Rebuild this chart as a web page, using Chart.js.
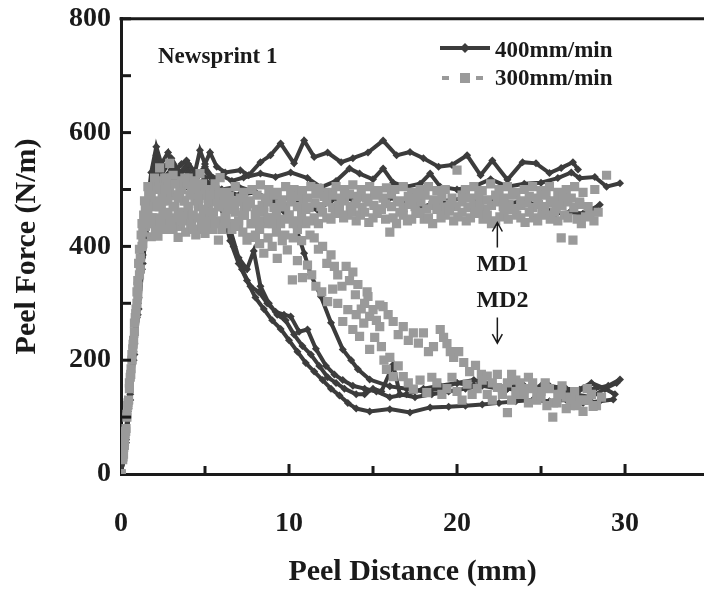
<!DOCTYPE html>
<html>
<head>
<meta charset="utf-8">
<script src="https://cdn.jsdelivr.net/npm/chart.js@4.4.1/dist/chart.umd.min.js"></script>
<style>
  html, body { margin: 0; padding: 0; background: #fff; overflow: hidden; }
  #grafico { width: 704px; height: 590px; display: block; }
</style>
</head>
<body>
<canvas id="grafico" width="704" height="590"></canvas>
<script>
// Peel force vs peel distance, Newsprint 1 — [distance mm, force N/m]
const xTicks = [0, 10, 20, 30];
const yTicks = [0, 200, 400, 600, 800];

// 400 mm/min, MD1 (plateau)
const rapidoMd1a = [[0,0],[0.2,45],[0.4,110],[0.6,180],[0.8,250],[1.0,320],[1.2,390],[1.4,440],[1.6,480],[1.8,530],[2.1,575],[2.4,545],[2.8,565],[3.2,530],[3.6,545],[3.9,551],[4.4,530],[4.7,569],[5.0,545],[5.3,565],[5.7,540],[6.2,530],[7.1,534],[7.6,525],[8.3,548],[8.9,560],[9.5,581],[10.3,546],[10.9,586],[11.5,557],[12.3,565],[13.1,548],[13.8,555],[14.7,565],[15.6,586],[16.4,560],[17.2,566],[18.0,555],[18.9,540],[19.7,543],[20.6,560],[21.4,525],[22.1,551],[23.0,517],[23.9,548],[24.7,546],[25.5,529],[26.2,538],[26.9,548],[27.2,535]];
const rapidoMd1b = [[0,0],[0.25,50],[0.5,130],[0.75,215],[1.0,300],[1.25,380],[1.5,450],[1.8,510],[2.1,560],[2.5,535],[3.0,555],[3.5,530],[4.0,545],[4.5,525],[5.0,540],[5.5,520],[6.0,525],[6.6,515],[7.3,521],[8.3,528],[9.2,522],[10.1,530],[11.1,520],[11.9,504],[12.8,515],[13.6,537],[14.2,528],[15.0,518],[15.6,537],[16.2,512],[17.0,505],[17.8,510],[18.4,528],[19.0,505],[20.0,500],[21.0,505],[22.0,518],[23.0,505],[24.0,510],[25.0,512],[26.0,520],[26.8,530],[27.3,520],[28.2,522],[28.9,505],[29.7,511]];
const rapidoMd1c = [[0,0],[0.3,60],[0.55,140],[0.8,230],[1.05,310],[1.3,385],[1.55,445],[1.8,500],[2.1,540],[2.6,520],[3.0,525],[3.5,510],[4.0,530],[4.5,505],[5.0,510],[5.5,495],[6.0,500],[7.0,490],[8.0,495],[9.0,480],[10.0,485],[11.0,470],[11.7,464],[12.4,478],[13.1,487],[14.0,480],[15.0,490],[16.0,485],[17.0,478],[18.0,470],[19.0,480],[19.6,481],[20.5,485],[21.3,478],[22.0,482],[23.0,475],[24.0,480],[25.0,470],[25.9,458],[26.7,460],[27.5,458],[28.0,465],[28.5,473]];

// 400 mm/min, MD2 (drop)
const rapidoMd2a = [[0,0],[0.2,40],[0.4,100],[0.6,170],[0.8,240],[1.0,310],[1.2,380],[1.4,430],[1.7,490],[2.0,540],[2.4,525],[2.9,550],[3.4,520],[3.9,540],[4.4,515],[5.0,535],[5.5,510],[6.0,470],[6.5,410],[7.0,370],[7.5,340],[8.0,310],[8.5,290],[9.0,270],[9.5,255],[10.0,235],[10.5,215],[11.0,195],[11.5,180],[12.0,165],[12.5,150],[13.0,138],[13.5,125],[14.0,115],[14.8,110],[16.0,114],[17.2,108],[18.4,117],[19.5,118],[20.5,120],[21.5,122],[22.5,125],[23.5,128],[24.5,130],[25.5,128],[26.5,130],[27.5,125],[28.5,128],[29.3,131]];
const rapidoMd2b = [[0,0],[0.25,50],[0.5,125],[0.75,200],[1.0,280],[1.25,360],[1.5,430],[1.8,500],[2.1,545],[2.5,520],[3.0,535],[3.5,510],[4.0,530],[4.5,505],[5.0,520],[5.5,495],[6.0,480],[6.5,430],[7.0,380],[7.5,360],[7.9,392],[8.3,330],[8.8,300],[9.3,280],[9.8,270],[10.3,245],[10.8,225],[11.3,210],[11.8,190],[12.3,170],[12.8,160],[13.3,150],[14.0,140],[14.5,140],[15.0,150],[15.5,145],[16.2,192],[16.6,140],[17.5,135],[18.5,140],[19.5,145],[20.5,150],[21.5,155],[22.5,150],[23.5,155],[24.5,150],[25.5,155],[26.5,150],[27.3,148],[28.2,150],[29.0,155],[29.7,166]];
const rapidoMd2c = [[0,0],[0.3,55],[0.55,130],[0.8,210],[1.05,290],[1.3,370],[1.55,440],[1.8,495],[2.2,530],[2.7,510],[3.2,525],[3.7,500],[4.2,520],[4.7,495],[5.2,505],[5.7,480],[6.2,450],[6.7,400],[7.2,360],[7.7,330],[8.2,320],[8.7,300],[9.2,285],[9.7,280],[10.1,277],[10.6,250],[11.1,254],[11.6,220],[12.2,190],[12.7,175],[13.2,165],[13.8,155],[14.5,150],[15.2,145],[16.0,135],[17.0,140],[18.0,150],[19.0,155],[20.0,160],[21.0,155],[22.0,160],[23.0,150],[24.0,155],[25.0,150],[26.0,145],[27.0,140],[28.0,135],[28.8,150],[29.5,160]];
const rapidoMd2d = [[0,0],[0.2,45],[0.45,115],[0.7,195],[0.95,275],[1.2,355],[1.45,425],[1.7,485],[2.0,525],[2.5,510],[3.0,530],[3.5,505],[4.0,520],[4.5,500],[5.0,515],[6.0,500],[7.0,505],[8.0,495],[9.0,480],[10.0,450],[10.5,425],[10.9,388],[11.3,350],[11.9,312],[12.5,266],[13.2,219],[13.7,200],[14.1,184],[14.8,166],[16.0,154],[17.0,150],[18.0,145],[19.0,150],[20.0,160],[21.0,165],[22.0,158],[23.0,150],[24.0,145],[25.0,155],[26.0,150],[27.0,145],[28.0,160],[28.8,150],[29.4,140]];

// 300 mm/min, MD1
const lentoMd1a = [[0,0],[0.15,35],[0.3,80],[0.45,130],[0.6,185],[0.75,235],[0.9,290],[1.0,340],[1.1,395],[1.25,440],[1.4,480],[1.6,505],[1.8,490],[2.0,520],[2.2,470],[2.3,538],[2.5,480],[2.6,500],[2.8,460],[2.9,546],[3.1,470],[3.2,510],[3.4,485],[3.5,495],[3.7,460],[3.8,520],[4.0,470],[4.1,490],[4.3,455],[4.4,515],[4.6,475],[4.7,528],[4.9,465],[5.0,500],[5.2,480],[5.3,490],[5.5,460],[5.6,510],[5.8,470],[5.9,521],[6.1,475],[6.3,495],[6.6,480],[6.8,505],[7.1,485],[7.3,495],[7.6,480],[7.8,500],[8.1,490],[8.3,508],[8.6,485],[8.8,500],[9.1,490],[9.3,495],[9.6,482],[9.8,505],[10.1,490],[10.3,500],[10.6,488],[10.8,498],[11.1,485],[11.3,505],[11.6,492],[11.8,502],[12.1,488],[12.3,495],[12.6,490],[12.8,505],[13.1,485],[13.3,500],[13.6,492],[13.8,508],[14.1,488],[14.3,500],[14.6,485],[14.8,505],[15.1,490],[15.3,498],[15.6,485],[15.8,503],[16.1,492],[16.3,500],[16.6,480],[16.8,505],[17.1,488],[17.3,495],[17.6,485],[17.8,500],[18.1,490],[18.3,505],[18.6,482],[18.8,498],[19.1,488],[19.3,500],[19.7,485],[20.0,534],[20.3,490],[20.5,500],[20.8,485],[21.0,505],[21.3,490],[21.5,498],[21.8,482],[22.0,510],[22.3,490],[22.5,500],[22.8,485],[23.0,505],[23.3,490],[23.5,495],[23.8,480],[24.0,500],[24.3,488],[24.5,505],[24.8,485],[25.0,498],[25.3,490],[25.5,505],[25.8,480],[26.0,495],[26.3,488],[26.5,500],[26.8,485],[27.0,505],[27.3,478],[27.5,495],[27.8,470],[28.2,500],[28.9,525]];
const lentoMd1b = [[0,0],[0.2,50],[0.35,100],[0.5,160],[0.65,210],[0.8,265],[0.95,320],[1.05,370],[1.2,420],[1.35,455],[1.6,470],[1.75,440],[1.9,440],[2.05,425],[2.2,418],[2.35,445],[2.5,455],[2.65,430],[2.8,480],[2.95,445],[3.1,430],[3.25,450],[3.4,416],[3.55,435],[3.7,445],[3.85,425],[4.0,470],[4.15,440],[4.3,430],[4.45,420],[4.6,450],[4.8,435],[5.0,423],[5.15,445],[5.3,460],[5.45,430],[5.6,440],[5.8,411],[6.0,430],[6.2,450],[6.4,440],[6.6,465],[6.8,435],[7.0,445],[7.25,455],[7.5,470],[7.75,440],[8.0,455],[8.25,445],[8.5,460],[8.75,450],[9.0,440],[9.25,455],[9.5,470],[9.75,448],[10.0,455],[10.25,440],[10.5,445],[10.75,455],[11.0,465],[11.25,445],[11.5,450],[11.75,440],[12.0,460],[12.25,450],[12.5,448],[12.75,458],[13.0,465],[13.25,450],[13.5,455],[13.75,460],[14.0,445],[14.25,455],[14.5,460],[14.75,442],[15.0,450],[15.25,458],[15.5,465],[15.75,448],[16.0,425],[16.2,450],[16.4,440],[16.6,460],[16.8,455],[17.05,445],[17.3,448],[17.55,458],[17.8,460],[18.05,448],[18.3,450],[18.55,440],[18.8,465],[19.05,450],[19.3,455],[19.55,462],[19.8,445],[20.05,452],[20.3,460],[20.55,445],[20.8,450],[21.05,458],[21.3,462],[21.55,448],[21.8,455],[22.05,440],[22.3,445],[22.55,452],[22.8,458],[23.05,448],[23.3,465],[23.55,455],[23.8,450],[24.05,442],[24.3,460],[24.55,450],[24.8,445],[25.05,458],[25.3,455],[25.55,448],[25.8,460],[26.0,445],[26.2,415],[26.4,455],[26.6,450],[26.9,411],[27.15,448],[27.4,440],[27.65,452],[27.9,455],[28.15,445],[28.4,460]];
const lentoMd1c = [[0,0],[0.12,30],[0.28,75],[0.42,125],[0.58,175],[0.72,228],[0.88,282],[1.02,330],[1.15,380],[1.3,425],[1.45,470],[1.65,492],[1.85,505],[2.05,480],[2.25,515],[2.45,495],[2.7,520],[2.9,500],[3.1,525],[3.3,490],[3.55,505],[3.75,480],[3.95,510],[4.2,495],[4.45,505],[4.65,485],[4.85,510],[5.1,490],[5.35,500],[5.6,478],[5.85,495],[6.15,470],[6.45,488],[6.75,472],[7.05,478],[7.35,468],[7.7,475],[8.05,465],[8.4,472],[8.75,478],[9.1,468],[9.45,475],[9.8,470],[10.15,478],[10.5,470],[10.85,474],[11.2,468],[11.55,476],[11.9,470],[12.25,478],[12.6,468],[12.95,472],[13.3,480],[13.65,470],[14.0,475],[14.35,468],[14.7,478],[15.05,472],[15.4,466],[15.75,475],[16.1,470],[16.45,478],[16.8,468],[17.15,474],[17.5,470],[17.85,478],[18.2,466],[18.55,472],[18.9,476],[19.25,468],[19.6,474],[19.95,470],[20.3,478],[20.65,468],[21.0,472],[21.35,476],[21.7,466],[22.05,472],[22.4,478],[22.75,470],[23.1,474],[23.45,466],[23.8,472],[24.15,476],[24.5,468],[24.85,474],[25.2,470],[25.55,476],[25.9,466],[26.25,472],[26.6,478],[26.95,468],[27.3,474]];

// 300 mm/min, MD2
const lentoMd2a = [[0,0],[0.1,25],[0.25,70],[0.4,120],[0.55,170],[0.7,220],[0.85,275],[1.0,315],[1.15,360],[1.3,405],[1.45,435],[1.6,460],[1.8,417],[1.95,470],[2.1,450],[2.25,500],[2.4,475],[2.55,440],[2.7,430],[2.85,505],[3.0,490],[3.2,440],[3.4,460],[3.6,515],[3.8,480],[4.0,450],[4.2,440],[4.4,500],[4.6,470],[4.8,445],[5.0,490],[5.2,430],[5.4,455],[5.6,500],[5.8,470],[6.0,440],[6.2,450],[6.4,480],[6.6,430],[6.8,460],[7.0,440],[7.25,425],[7.5,411],[7.75,440],[8.0,420],[8.25,405],[8.5,388],[8.75,415],[9.0,400],[9.3,379],[9.6,410],[9.9,394],[10.2,341],[10.5,375],[10.8,345],[11.1,367],[11.35,350],[11.6,330],[11.95,320],[12.3,303],[12.6,325],[12.9,300],[13.2,268],[13.5,289],[13.8,254],[14.0,280],[14.2,242],[14.45,265],[14.7,312],[14.8,219],[15.1,240],[15.4,297],[15.5,224],[15.65,200],[15.8,184],[16.0,205],[16.2,171],[16.5,190],[16.8,171],[17.1,160],[17.4,149],[17.8,165],[18.2,143],[18.5,170],[18.8,160],[19.1,140],[19.4,150],[19.7,170],[20.0,145],[20.3,130],[20.6,158],[20.9,140],[21.2,150],[21.5,165],[21.8,140],[22.1,130],[22.4,152],[22.7,140],[23.0,108],[23.25,130],[23.5,145],[23.75,160],[24.0,140],[24.25,125],[24.5,150],[24.75,135],[25.0,135],[25.35,120],[25.7,100],[25.95,125],[26.2,140],[26.5,115],[26.8,130],[27.15,120],[27.5,110],[27.8,130],[28.1,119]];
const lentoMd2b = [[0,0],[0.2,55],[0.35,105],[0.5,150],[0.65,200],[0.8,250],[0.95,300],[1.1,350],[1.25,400],[1.4,445],[1.55,470],[1.7,480],[1.85,450],[2.0,500],[2.15,430],[2.3,470],[2.45,510],[2.6,520],[2.75,455],[2.9,490],[3.05,430],[3.2,470],[3.4,440],[3.6,500],[3.8,460],[4.0,520],[4.2,445],[4.4,480],[4.6,430],[4.8,500],[5.0,455],[5.2,470],[5.4,430],[5.6,490],[5.8,445],[6.0,480],[6.25,455],[6.5,470],[6.75,440],[7.0,480],[7.35,455],[7.7,416],[8.0,455],[8.25,430],[8.5,470],[8.75,440],[9.0,450],[9.25,425],[9.5,440],[9.75,420],[10.0,455],[10.25,415],[10.5,430],[10.75,410],[11.0,440],[11.25,420],[11.5,415],[11.75,395],[12.0,400],[12.25,370],[12.5,385],[12.7,365],[12.9,350],[13.15,330],[13.4,365],[13.6,340],[13.8,355],[13.95,315],[14.1,333],[14.3,290],[14.5,300],[14.65,320],[14.8,277],[15.0,289],[15.2,270],[15.4,259],[15.6,294],[15.9,280],[16.2,268],[16.5,245],[16.8,259],[17.1,235],[17.4,248],[17.7,230],[18.0,248],[18.3,215],[18.6,224],[19.0,254],[19.2,240],[19.4,229],[19.6,215],[19.8,205],[20.1,215],[20.4,196],[20.75,180],[21.1,191],[21.45,175],[21.8,172],[22.1,160],[22.4,175],[22.7,150],[23.0,160],[23.25,175],[23.5,165],[23.75,140],[24.0,150],[24.25,170],[24.5,160],[24.75,130],[25.0,145],[25.25,160],[25.5,150],[25.75,125],[26.0,140],[26.25,155],[26.5,135],[26.75,120],[27.0,145],[27.25,130],[27.5,130],[27.75,150],[28.0,140],[28.3,120],[28.6,135]];

const serieRapida = [rapidoMd1a, rapidoMd1b, rapidoMd1c, rapidoMd2a, rapidoMd2b, rapidoMd2c, rapidoMd2d];
const serieLenta = [lentoMd1a, lentoMd1b, lentoMd1c, lentoMd2a, lentoMd2b];

const corEscura = '#3c3c3c';
const corClara = '#9a9a9a';
const corTexto = '#1a1a1a';
const fonte = 'Liberation Serif, Times New Roman, serif';

const datasets = [
  ...serieLenta.map((pontos) => ({
    label: '300mm/min',
    data: pontos,
    showLine: false,
    pointStyle: 'rect',
    pointRadius: 6.5,
    pointBackgroundColor: corClara,
    pointBorderWidth: 0,
    order: 0
  })),
  ...serieRapida.map((pontos) => ({
    label: '400mm/min',
    data: pontos,
    showLine: true,
    borderColor: corEscura,
    borderWidth: 4,
    pointStyle: 'rectRot',
    pointRadius: 4,
    pointBackgroundColor: corEscura,
    pointBorderWidth: 0,
    order: 1
  }))
];

// inward tick marks, top frame line, legend and annotations
const extras = {
  id: 'extras',
  afterDraw(chart) {
    const { ctx, chartArea: area, scales: { x, y } } = chart;
    ctx.save();
    ctx.strokeStyle = corTexto;
    ctx.lineWidth = 3;
    ctx.beginPath();
    ctx.moveTo(area.left - 1.5, area.top);
    ctx.lineTo(chart.width, area.top);
    ctx.stroke();

    x.ticks.forEach((t) => {
      if (t.value === 0 || t.value % 5 !== 0) return;
      const px = x.getPixelForValue(t.value);
      const len = t.value % 10 === 0 ? 10 : 8;
      ctx.beginPath();
      ctx.moveTo(px, area.bottom);
      ctx.lineTo(px, area.bottom - len);
      ctx.stroke();
    });
    y.ticks.forEach((t) => {
      if (t.value === 0) return;
      const py = y.getPixelForValue(t.value);
      ctx.beginPath();
      ctx.moveTo(area.left, py);
      ctx.lineTo(area.left + 10, py);
      ctx.stroke();
    });

    // legend
    ctx.fillStyle = corTexto;
    ctx.font = 'bold 23px ' + fonte;
    ctx.textBaseline = 'middle';
    ctx.textAlign = 'left';
    ctx.fillText('Newsprint 1', 158, 57);
    ctx.fillText('400mm/min', 495, 51);
    ctx.fillText('300mm/min', 495, 79);

    ctx.strokeStyle = corEscura;
    ctx.lineWidth = 4;
    ctx.beginPath();
    ctx.moveTo(440, 48);
    ctx.lineTo(490, 48);
    ctx.stroke();
    ctx.fillStyle = corEscura;
    ctx.beginPath();
    ctx.moveTo(465, 43); ctx.lineTo(470, 48); ctx.lineTo(465, 53); ctx.lineTo(460, 48);
    ctx.closePath();
    ctx.fill();

    ctx.strokeStyle = corClara;
    ctx.beginPath();
    ctx.moveTo(442, 78); ctx.lineTo(449, 78);
    ctx.moveTo(476, 78); ctx.lineTo(483, 78);
    ctx.stroke();
    ctx.fillStyle = corClara;
    ctx.fillRect(460, 73, 10, 10);

    // MD1 / MD2 annotations
    const ax = x.getPixelForValue(22.4);
    ctx.fillStyle = corTexto;
    ctx.font = 'bold 24px ' + fonte;
    ctx.textAlign = 'center';
    ctx.fillText('MD1', x.getPixelForValue(22.7), y.getPixelForValue(367));
    ctx.fillText('MD2', x.getPixelForValue(22.7), y.getPixelForValue(305));

    ctx.strokeStyle = corTexto;
    ctx.lineWidth = 1.5;
    const seta = (y0, y1) => {
      const p0 = y.getPixelForValue(y0);
      const p1 = y.getPixelForValue(y1);
      const dir = p1 < p0 ? 1 : -1;
      ctx.beginPath();
      ctx.moveTo(ax, p0);
      ctx.lineTo(ax, p1);
      ctx.moveTo(ax - 5, p1 + dir * 9);
      ctx.lineTo(ax, p1);
      ctx.lineTo(ax + 5, p1 + dir * 9);
      ctx.stroke();
    };
    seta(398, 442);
    seta(275, 230);
    ctx.restore();
  }
};

new Chart(document.getElementById('grafico'), {
  type: 'scatter',
  data: { datasets },
  options: {
    responsive: false,
    maintainAspectRatio: false,
    animation: false,
    devicePixelRatio: 1,
    layout: { autoPadding: false, padding: { left: 0, right: 0, top: 18, bottom: 0 } },
    plugins: { legend: { display: false }, tooltip: { enabled: false } },
    scales: {
      x: {
        type: 'linear',
        min: 0,
        // the axis runs on to 35, just past the right edge of the picture
        max: 34.7,
        afterFit: (escala) => { escala.height = 116; },
        grid: { display: false },
        border: { display: true, width: 3, color: corTexto },
        ticks: {
          stepSize: 5,
          includeBounds: false,
          padding: 25,
          color: corTexto,
          font: { family: fonte, size: 28, weight: 'bold' },
          callback: (v) => (xTicks.includes(v) ? v : '')
        },
        title: {
          display: true,
          text: 'Peel Distance (mm)',
          color: corTexto,
          font: { family: fonte, size: 30, weight: 'bold' },
          padding: { top: 0, bottom: 0 }
        }
      },
      y: {
        min: 0,
        max: 800,
        afterFit: (escala) => { escala.width = 121; },
        grid: { display: false },
        border: { display: true, width: 3, color: corTexto },
        ticks: {
          stepSize: 100,
          padding: 2,
          color: corTexto,
          font: { family: fonte, size: 28, weight: 'bold' },
          callback: (v) => (yTicks.includes(v) ? v : '')
        },
        title: {
          display: true,
          text: 'Peel Force (N/m)',
          color: corTexto,
          font: { family: fonte, size: 30, weight: 'bold' },
          padding: { top: 9, bottom: 0 }
        }
      }
    }
  },
  plugins: [extras]
});
</script>
</body>
</html>
